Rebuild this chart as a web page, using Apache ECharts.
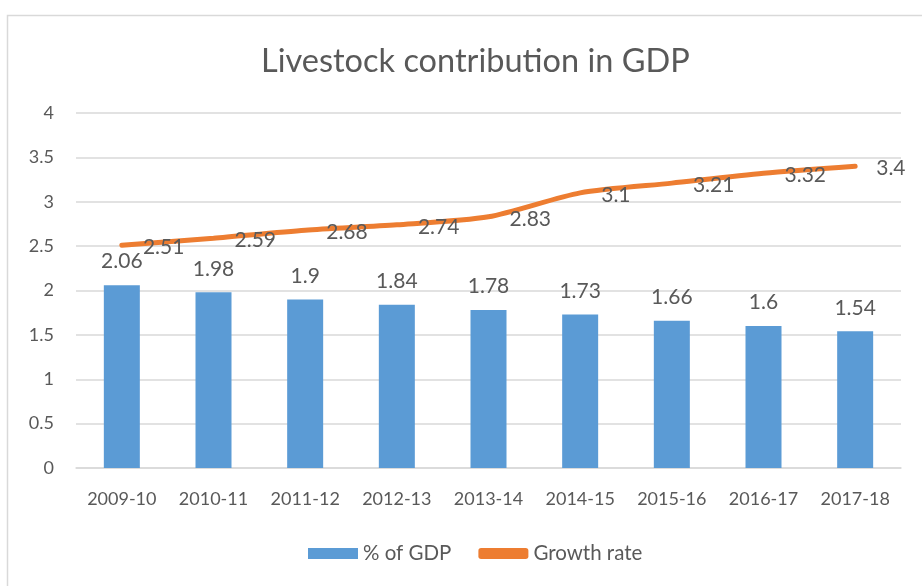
<!DOCTYPE html>
<html><head><meta charset="utf-8">
<script src="https://cdn.jsdelivr.net/npm/echarts@6/dist/echarts.min.js"></script>
<style>html,body{margin:0;padding:0;background:#fff}#c{width:922px;height:586px}</style>
</head><body><div id="c"></div>
<script>
const categories = ['2009-10','2010-11','2011-12','2012-13','2013-14','2014-15','2015-16','2016-17','2017-18'];
const gdpShare = [2.06,1.98,1.9,1.84,1.78,1.73,1.66,1.6,1.54];
const growthRate = [2.51,2.59,2.68,2.74,2.83,3.1,3.21,3.32,3.4];
const yTicks = [0,0.5,1,1.5,2,2.5,3,3.5,4];
const font = 'Lato, "Open Sans", sans-serif';
const chart = echarts.init(document.getElementById('c'));
chart.setOption({
  animation:false,
  textStyle:{fontFamily:font},
  graphic:[{type:'rect',left:5,top:13,shape:{width:940,height:620},style:{fill:'none',stroke:'#d9d9d9',lineWidth:1.5},silent:true}],
  title:{text:'Livestock contribution in GDP',left:256,top:40,textStyle:{fontFamily:font,fontSize:32.5,fontWeight:'normal',color:'#595959'}},
  legend:{bottom:17,left:303,itemGap:27,itemWidth:50,itemHeight:11,textStyle:{fontFamily:font,fontSize:20.5,color:'#595959'},
    data:[{name:'% of GDP',icon:'rect'},{name:'Growth rate',icon:'roundRect'}]},
  grid:{left:76,right:21,top:113,bottom:118},
  xAxis:{type:'category',data:categories,axisTick:{show:false},axisLine:{lineStyle:{color:'#d9d9d9',width:1.5}},
    axisLabel:{fontFamily:font,fontSize:18,color:'#595959',margin:22}},
  yAxis:{type:'value',min:0,max:4,interval:0.5,axisLine:{show:false},axisTick:{show:false},
    splitLine:{lineStyle:{color:'#d9d9d9',width:1.5}},
    axisLabel:{fontFamily:font,fontSize:18,color:'#595959',margin:22,formatter:v=>String(v)}},
  series:[
    {name:'% of GDP',type:'bar',data:gdpShare,barWidth:36,itemStyle:{color:'#5b9bd5'},
      label:{show:true,position:'top',distance:13,fontFamily:font,fontSize:21,color:'#595959'}},
    {name:'Growth rate',type:'line',data:growthRate,smooth:0.25,symbol:'circle',symbolSize:0.1,showSymbol:true,
      lineStyle:{color:'#ed7d31',width:5,cap:'round'},itemStyle:{color:'#ed7d31'},
      label:{show:true,position:'right',distance:21,offset:[0,2],fontFamily:font,fontSize:21,color:'#595959'}}
  ]
});
</script></body></html>
